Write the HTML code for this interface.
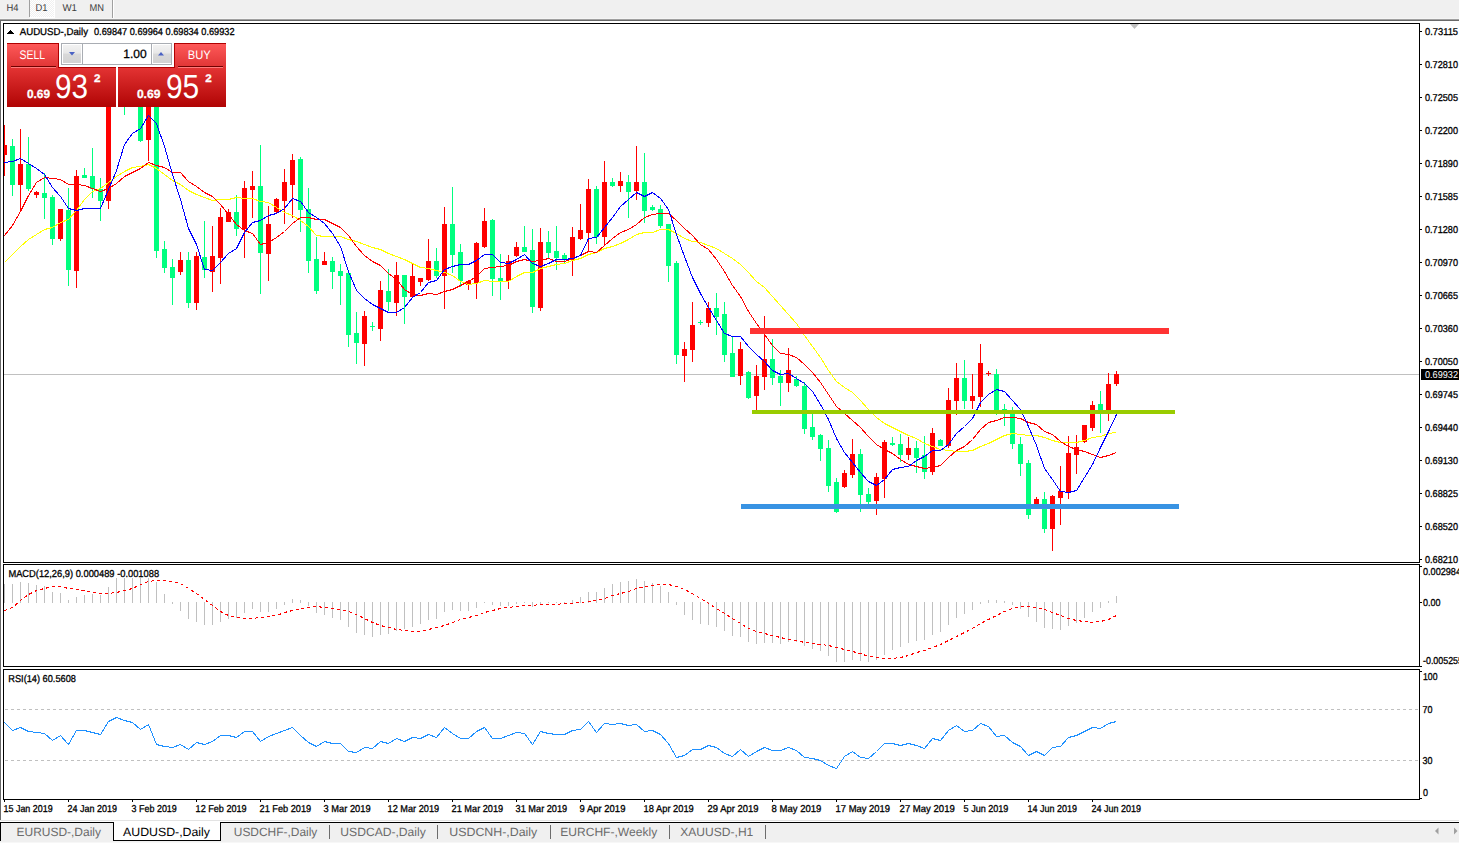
<!DOCTYPE html><html><head><meta charset="utf-8"><style>html,body{margin:0;padding:0;background:#fff;width:1459px;height:843px;overflow:hidden}</style></head><body><svg width="1459" height="843" viewBox="0 0 1459 843" style="display:block;font-family:'Liberation Sans',sans-serif" shape-rendering="crispEdges" text-rendering="geometricPrecision">
<defs><pattern id="dither" width="2" height="2" patternUnits="userSpaceOnUse"><rect width="2" height="2" fill="#f0f0f0"/><rect width="1" height="1" fill="#ffffff"/><rect x="1" y="1" width="1" height="1" fill="#ffffff"/></pattern><linearGradient id="gbtn" x1="0" y1="0" x2="0" y2="1"><stop offset="0" stop-color="#ff5a5a"/><stop offset="1" stop-color="#e03535"/></linearGradient><linearGradient id="gbox" x1="0" y1="0" x2="0" y2="1"><stop offset="0" stop-color="#e43434"/><stop offset="1" stop-color="#b00404"/></linearGradient><linearGradient id="gspin" x1="0" y1="0" x2="0" y2="1"><stop offset="0" stop-color="#f2f2f2"/><stop offset="0.45" stop-color="#e8e8e8"/><stop offset="0.5" stop-color="#d9d9d9"/><stop offset="1" stop-color="#d2d2d2"/></linearGradient><clipPath id="cmain"><rect x="4" y="24" width="1415" height="538"/></clipPath><clipPath id="cmacd"><rect x="4" y="565" width="1415" height="101"/></clipPath><clipPath id="crsi"><rect x="4" y="670" width="1415" height="129"/></clipPath></defs>
<rect x="0" y="0" width="1459" height="843" fill="#ffffff" />
<rect x="0" y="0" width="1459" height="18" fill="#f0f0f0" />
<rect x="0" y="18" width="1459" height="1" fill="#f5f5f5" />
<rect x="0" y="19" width="1459" height="1" fill="#a0a0a0" />
<rect x="0" y="20" width="1459" height="1" fill="#696969" />
<rect x="30" y="0" width="24" height="17" fill="url(#dither)" />
<rect x="29" y="0" width="1" height="17" fill="#a0a0a0" />
<rect x="54" y="0" width="1" height="17" fill="#ffffff" />
<rect x="30" y="17" width="25" height="1" fill="#ffffff" />
<rect x="112" y="0" width="1" height="18" fill="#a0a0a0" />
<rect x="113" y="0" width="1" height="18" fill="#ffffff" />
<text x="6.5" y="11" font-size="10" fill="#3c3c3c" textLength="12" lengthAdjust="spacingAndGlyphs" >H4</text>
<text x="35.5" y="11" font-size="10" fill="#3c3c3c" textLength="12" lengthAdjust="spacingAndGlyphs" >D1</text>
<text x="62.5" y="11" font-size="10" fill="#3c3c3c" textLength="14.5" lengthAdjust="spacingAndGlyphs" >W1</text>
<text x="89.5" y="11" font-size="10" fill="#3c3c3c" textLength="14.5" lengthAdjust="spacingAndGlyphs" >MN</text>
<rect x="0" y="20" width="1" height="800" fill="#696969" />
<rect x="3" y="23" width="1417" height="1" fill="#000" />
<rect x="3" y="562" width="1417" height="1" fill="#000" />
<rect x="3" y="23" width="1" height="540" fill="#000" />
<rect x="1419" y="23" width="1" height="540" fill="#000" />
<rect x="3" y="564" width="1417" height="1" fill="#000" />
<rect x="3" y="666" width="1417" height="1" fill="#000" />
<rect x="3" y="564" width="1" height="103" fill="#000" />
<rect x="1419" y="564" width="1" height="103" fill="#000" />
<rect x="3" y="669" width="1417" height="1" fill="#000" />
<rect x="3" y="799" width="1417" height="1" fill="#000" />
<rect x="3" y="669" width="1" height="131" fill="#000" />
<rect x="1419" y="669" width="1" height="131" fill="#000" />
<rect x="1420" y="31" width="2" height="1" fill="#000" />
<text x="1425" y="35" font-size="10" fill="#000" stroke="#000" stroke-width="0.3" textLength="33" lengthAdjust="spacingAndGlyphs" >0.73115</text>
<rect x="1420" y="64" width="2" height="1" fill="#000" />
<text x="1425" y="68" font-size="10" fill="#000" stroke="#000" stroke-width="0.3" textLength="33" lengthAdjust="spacingAndGlyphs" >0.72810</text>
<rect x="1420" y="97" width="2" height="1" fill="#000" />
<text x="1425" y="101" font-size="10" fill="#000" stroke="#000" stroke-width="0.3" textLength="33" lengthAdjust="spacingAndGlyphs" >0.72505</text>
<rect x="1420" y="130" width="2" height="1" fill="#000" />
<text x="1425" y="134" font-size="10" fill="#000" stroke="#000" stroke-width="0.3" textLength="33" lengthAdjust="spacingAndGlyphs" >0.72200</text>
<rect x="1420" y="163" width="2" height="1" fill="#000" />
<text x="1425" y="167" font-size="10" fill="#000" stroke="#000" stroke-width="0.3" textLength="33" lengthAdjust="spacingAndGlyphs" >0.71890</text>
<rect x="1420" y="196" width="2" height="1" fill="#000" />
<text x="1425" y="200" font-size="10" fill="#000" stroke="#000" stroke-width="0.3" textLength="33" lengthAdjust="spacingAndGlyphs" >0.71585</text>
<rect x="1420" y="229" width="2" height="1" fill="#000" />
<text x="1425" y="233" font-size="10" fill="#000" stroke="#000" stroke-width="0.3" textLength="33" lengthAdjust="spacingAndGlyphs" >0.71280</text>
<rect x="1420" y="262" width="2" height="1" fill="#000" />
<text x="1425" y="266" font-size="10" fill="#000" stroke="#000" stroke-width="0.3" textLength="33" lengthAdjust="spacingAndGlyphs" >0.70970</text>
<rect x="1420" y="295" width="2" height="1" fill="#000" />
<text x="1425" y="299" font-size="10" fill="#000" stroke="#000" stroke-width="0.3" textLength="33" lengthAdjust="spacingAndGlyphs" >0.70665</text>
<rect x="1420" y="328" width="2" height="1" fill="#000" />
<text x="1425" y="332" font-size="10" fill="#000" stroke="#000" stroke-width="0.3" textLength="33" lengthAdjust="spacingAndGlyphs" >0.70360</text>
<rect x="1420" y="361" width="2" height="1" fill="#000" />
<text x="1425" y="365" font-size="10" fill="#000" stroke="#000" stroke-width="0.3" textLength="33" lengthAdjust="spacingAndGlyphs" >0.70050</text>
<rect x="1420" y="394" width="2" height="1" fill="#000" />
<text x="1425" y="398" font-size="10" fill="#000" stroke="#000" stroke-width="0.3" textLength="33" lengthAdjust="spacingAndGlyphs" >0.69745</text>
<rect x="1420" y="427" width="2" height="1" fill="#000" />
<text x="1425" y="431" font-size="10" fill="#000" stroke="#000" stroke-width="0.3" textLength="33" lengthAdjust="spacingAndGlyphs" >0.69440</text>
<rect x="1420" y="460" width="2" height="1" fill="#000" />
<text x="1425" y="464" font-size="10" fill="#000" stroke="#000" stroke-width="0.3" textLength="33" lengthAdjust="spacingAndGlyphs" >0.69130</text>
<rect x="1420" y="493" width="2" height="1" fill="#000" />
<text x="1425" y="497" font-size="10" fill="#000" stroke="#000" stroke-width="0.3" textLength="33" lengthAdjust="spacingAndGlyphs" >0.68825</text>
<rect x="1420" y="526" width="2" height="1" fill="#000" />
<text x="1425" y="530" font-size="10" fill="#000" stroke="#000" stroke-width="0.3" textLength="33" lengthAdjust="spacingAndGlyphs" >0.68520</text>
<rect x="1420" y="559" width="2" height="1" fill="#000" />
<text x="1425" y="563" font-size="10" fill="#000" stroke="#000" stroke-width="0.3" textLength="33" lengthAdjust="spacingAndGlyphs" >0.68210</text>
<rect x="4" y="374" width="1415" height="1" fill="#c0c0c0" />
<rect x="1421" y="369" width="38" height="11" fill="#000" />
<text x="1425" y="378" font-size="10" fill="#fff" textLength="33" lengthAdjust="spacingAndGlyphs" >0.69932</text>
<rect x="1420" y="566" width="2" height="1" fill="#000" />
<text x="1423" y="575" font-size="10" fill="#000" stroke="#000" stroke-width="0.3" textLength="38" lengthAdjust="spacingAndGlyphs" >0.002984</text>
<rect x="1420" y="602" width="2" height="1" fill="#000" />
<text x="1423" y="606" font-size="10" fill="#000" stroke="#000" stroke-width="0.3" textLength="17.5" lengthAdjust="spacingAndGlyphs" >0.00</text>
<rect x="1420" y="666" width="2" height="1" fill="#000" />
<text x="1423" y="664" font-size="10" fill="#000" stroke="#000" stroke-width="0.3" textLength="40" lengthAdjust="spacingAndGlyphs" >-0.005255</text>
<rect x="1420" y="671" width="2" height="1" fill="#000" />
<text x="1423" y="680" font-size="10" fill="#000" stroke="#000" stroke-width="0.3" textLength="14.5" lengthAdjust="spacingAndGlyphs" >100</text>
<text x="1422.5" y="713" font-size="10" fill="#000" stroke="#000" stroke-width="0.3" textLength="10" lengthAdjust="spacingAndGlyphs" >70</text>
<text x="1422.5" y="764" font-size="10" fill="#000" stroke="#000" stroke-width="0.3" textLength="10" lengthAdjust="spacingAndGlyphs" >30</text>
<text x="1423" y="796" font-size="10" fill="#000" stroke="#000" stroke-width="0.3" textLength="5" lengthAdjust="spacingAndGlyphs" >0</text>
<rect x="1420" y="798" width="2" height="1" fill="#000" />
<rect x="4" y="800" width="1" height="2" fill="#000" />
<text x="3.6" y="812" font-size="10" fill="#000" stroke="#000" stroke-width="0.3" textLength="49" lengthAdjust="spacingAndGlyphs" >15 Jan 2019</text>
<rect x="68" y="800" width="1" height="2" fill="#000" />
<text x="67.6" y="812" font-size="10" fill="#000" stroke="#000" stroke-width="0.3" textLength="49.4" lengthAdjust="spacingAndGlyphs" >24 Jan 2019</text>
<rect x="132" y="800" width="1" height="2" fill="#000" />
<text x="131.6" y="812" font-size="10" fill="#000" stroke="#000" stroke-width="0.3" textLength="45.2" lengthAdjust="spacingAndGlyphs" >3 Feb 2019</text>
<rect x="196" y="800" width="1" height="2" fill="#000" />
<text x="195.6" y="812" font-size="10" fill="#000" stroke="#000" stroke-width="0.3" textLength="51" lengthAdjust="spacingAndGlyphs" >12 Feb 2019</text>
<rect x="260" y="800" width="1" height="2" fill="#000" />
<text x="259.6" y="812" font-size="10" fill="#000" stroke="#000" stroke-width="0.3" textLength="51.5" lengthAdjust="spacingAndGlyphs" >21 Feb 2019</text>
<rect x="324" y="800" width="1" height="2" fill="#000" />
<text x="323.6" y="812" font-size="10" fill="#000" stroke="#000" stroke-width="0.3" textLength="47" lengthAdjust="spacingAndGlyphs" >3 Mar 2019</text>
<rect x="388" y="800" width="1" height="2" fill="#000" />
<text x="387.6" y="812" font-size="10" fill="#000" stroke="#000" stroke-width="0.3" textLength="51.5" lengthAdjust="spacingAndGlyphs" >12 Mar 2019</text>
<rect x="452" y="800" width="1" height="2" fill="#000" />
<text x="451.6" y="812" font-size="10" fill="#000" stroke="#000" stroke-width="0.3" textLength="51.6" lengthAdjust="spacingAndGlyphs" >21 Mar 2019</text>
<rect x="516" y="800" width="1" height="2" fill="#000" />
<text x="515.6" y="812" font-size="10" fill="#000" stroke="#000" stroke-width="0.3" textLength="51.6" lengthAdjust="spacingAndGlyphs" >31 Mar 2019</text>
<rect x="580" y="800" width="1" height="2" fill="#000" />
<text x="579.6" y="812" font-size="10" fill="#000" stroke="#000" stroke-width="0.3" textLength="45.8" lengthAdjust="spacingAndGlyphs" >9 Apr 2019</text>
<rect x="644" y="800" width="1" height="2" fill="#000" />
<text x="643.6" y="812" font-size="10" fill="#000" stroke="#000" stroke-width="0.3" textLength="50.2" lengthAdjust="spacingAndGlyphs" >18 Apr 2019</text>
<rect x="708" y="800" width="1" height="2" fill="#000" />
<text x="707.6" y="812" font-size="10" fill="#000" stroke="#000" stroke-width="0.3" textLength="50.8" lengthAdjust="spacingAndGlyphs" >29 Apr 2019</text>
<rect x="772" y="800" width="1" height="2" fill="#000" />
<text x="771.6" y="812" font-size="10" fill="#000" stroke="#000" stroke-width="0.3" textLength="49.8" lengthAdjust="spacingAndGlyphs" >8 May 2019</text>
<rect x="836" y="800" width="1" height="2" fill="#000" />
<text x="835.6" y="812" font-size="10" fill="#000" stroke="#000" stroke-width="0.3" textLength="54.5" lengthAdjust="spacingAndGlyphs" >17 May 2019</text>
<rect x="900" y="800" width="1" height="2" fill="#000" />
<text x="899.6" y="812" font-size="10" fill="#000" stroke="#000" stroke-width="0.3" textLength="55.2" lengthAdjust="spacingAndGlyphs" >27 May 2019</text>
<rect x="964" y="800" width="1" height="2" fill="#000" />
<text x="963.6" y="812" font-size="10" fill="#000" stroke="#000" stroke-width="0.3" textLength="44.8" lengthAdjust="spacingAndGlyphs" >5 Jun 2019</text>
<rect x="1028" y="800" width="1" height="2" fill="#000" />
<text x="1027.6" y="812" font-size="10" fill="#000" stroke="#000" stroke-width="0.3" textLength="49.3" lengthAdjust="spacingAndGlyphs" >14 Jun 2019</text>
<rect x="1092" y="800" width="1" height="2" fill="#000" />
<text x="1091.6" y="812" font-size="10" fill="#000" stroke="#000" stroke-width="0.3" textLength="49.4" lengthAdjust="spacingAndGlyphs" >24 Jun 2019</text>
<rect x="0" y="820" width="1459" height="1" fill="#e3e3e3" />
<rect x="0" y="822" width="1459" height="21" fill="#f0f0f0" />
<rect x="0" y="822" width="1459" height="1" fill="#000" />
<rect x="0" y="842" width="1459" height="1" fill="#f7f7f7" />
<rect x="0" y="822" width="1" height="19" fill="#000" />
<rect x="114" y="821" width="106" height="19" fill="#ffffff" />
<rect x="113" y="822" width="1" height="19" fill="#000" />
<rect x="220" y="822" width="1" height="19" fill="#000" />
<rect x="113" y="840" width="108" height="1" fill="#000" />
<text x="16.5" y="836" font-size="12" fill="#6b6b6b" textLength="84.5" lengthAdjust="spacingAndGlyphs" >EURUSD-,Daily</text>
<text x="123" y="836" font-size="12" fill="#000" textLength="87" lengthAdjust="spacingAndGlyphs" >AUDUSD-,Daily</text>
<text x="233.8" y="836" font-size="12" fill="#6b6b6b" textLength="83.5" lengthAdjust="spacingAndGlyphs" >USDCHF-,Daily</text>
<text x="340.3" y="836" font-size="12" fill="#6b6b6b" textLength="85.5" lengthAdjust="spacingAndGlyphs" >USDCAD-,Daily</text>
<text x="449.3" y="836" font-size="12" fill="#6b6b6b" textLength="88" lengthAdjust="spacingAndGlyphs" >USDCNH-,Daily</text>
<text x="560.2" y="836" font-size="12" fill="#6b6b6b" textLength="97" lengthAdjust="spacingAndGlyphs" >EURCHF-,Weekly</text>
<text x="680.3" y="836" font-size="12" fill="#6b6b6b" textLength="73" lengthAdjust="spacingAndGlyphs" >XAUUSD-,H1</text>
<rect x="329" y="825" width="1" height="14" fill="#6d6d6d" />
<rect x="437" y="825" width="1" height="14" fill="#6d6d6d" />
<rect x="550" y="825" width="1" height="14" fill="#6d6d6d" />
<rect x="669" y="825" width="1" height="14" fill="#6d6d6d" />
<rect x="765" y="825" width="1" height="14" fill="#6d6d6d" />
<polygon points="1438.5,827.5 1438.5,834.5 1435,831" fill="#a0a0a0" shape-rendering="geometricPrecision"/>
<polygon points="1454,827.5 1454,834.5 1457.5,831" fill="#a0a0a0" shape-rendering="geometricPrecision"/>
<rect x="10" y="30" width="1" height="1" fill="#000" />
<rect x="9" y="31" width="3" height="1" fill="#000" />
<rect x="8" y="32" width="5" height="1" fill="#000" />
<rect x="7" y="33" width="7" height="1" fill="#000" />
<text x="19.7" y="35" font-size="10" fill="#000" stroke="#000" stroke-width="0.3" textLength="68.3" lengthAdjust="spacingAndGlyphs" >AUDUSD-,Daily</text>
<text x="94" y="35" font-size="10" fill="#000" stroke="#000" stroke-width="0.3" textLength="140.5" lengthAdjust="spacingAndGlyphs" >0.69847 0.69964 0.69834 0.69932</text>
<polygon points="1130,24 1139,24 1134.5,29" fill="#c0c0c0" shape-rendering="geometricPrecision"/>
<g clip-path="url(#cmain)">
<rect x="4" y="125" width="1" height="51" fill="#ff0000" />
<rect x="2" y="145" width="5" height="10" fill="#ff0000" />
<rect x="12" y="139" width="1" height="57" fill="#00ff7f" />
<rect x="10" y="146" width="5" height="39" fill="#00ff7f" />
<rect x="20" y="129" width="1" height="82" fill="#ff0000" />
<rect x="18" y="164" width="5" height="21" fill="#ff0000" />
<rect x="28" y="137" width="1" height="54" fill="#00ff7f" />
<rect x="26" y="164" width="5" height="25" fill="#00ff7f" />
<rect x="36" y="191" width="1" height="7" fill="#ff0000" />
<rect x="34" y="192" width="5" height="3" fill="#ff0000" />
<rect x="44" y="173" width="1" height="46" fill="#00ff7f" />
<rect x="42" y="193" width="5" height="5" fill="#00ff7f" />
<rect x="52" y="195" width="1" height="50" fill="#00ff7f" />
<rect x="50" y="197" width="5" height="42" fill="#00ff7f" />
<rect x="60" y="209" width="1" height="32" fill="#ff0000" />
<rect x="58" y="209" width="5" height="30" fill="#ff0000" />
<rect x="68" y="188" width="1" height="98" fill="#00ff7f" />
<rect x="66" y="210" width="5" height="60" fill="#00ff7f" />
<rect x="76" y="170" width="1" height="118" fill="#ff0000" />
<rect x="74" y="176" width="5" height="95" fill="#ff0000" />
<rect x="84" y="168" width="1" height="10" fill="#00ff7f" />
<rect x="82" y="175" width="5" height="3" fill="#00ff7f" />
<rect x="92" y="148" width="1" height="50" fill="#00ff7f" />
<rect x="90" y="176" width="5" height="13" fill="#00ff7f" />
<rect x="100" y="178" width="1" height="43" fill="#00ff7f" />
<rect x="98" y="189" width="5" height="12" fill="#00ff7f" />
<rect x="108" y="80" width="1" height="129" fill="#ff0000" />
<rect x="106" y="100" width="5" height="101" fill="#ff0000" />
<rect x="116" y="70" width="1" height="35" fill="#ff0000" />
<rect x="114" y="80" width="5" height="21" fill="#ff0000" />
<rect x="124" y="70" width="1" height="45" fill="#00ff7f" />
<rect x="122" y="85" width="5" height="16" fill="#00ff7f" />
<rect x="132" y="60" width="1" height="45" fill="#ff0000" />
<rect x="130" y="75" width="5" height="26" fill="#ff0000" />
<rect x="140" y="60" width="1" height="82" fill="#00ff7f" />
<rect x="138" y="75" width="5" height="66" fill="#00ff7f" />
<rect x="148" y="90" width="1" height="71" fill="#ff0000" />
<rect x="146" y="100" width="5" height="40" fill="#ff0000" />
<rect x="156" y="90" width="1" height="168" fill="#00ff7f" />
<rect x="154" y="100" width="5" height="151" fill="#00ff7f" />
<rect x="164" y="241" width="1" height="32" fill="#00ff7f" />
<rect x="162" y="249" width="5" height="19" fill="#00ff7f" />
<rect x="172" y="259" width="1" height="46" fill="#00ff7f" />
<rect x="170" y="267" width="5" height="11" fill="#00ff7f" />
<rect x="180" y="252" width="1" height="23" fill="#ff0000" />
<rect x="178" y="260" width="5" height="12" fill="#ff0000" />
<rect x="188" y="252" width="1" height="56" fill="#00ff7f" />
<rect x="186" y="260" width="5" height="43" fill="#00ff7f" />
<rect x="196" y="252" width="1" height="58" fill="#ff0000" />
<rect x="194" y="256" width="5" height="47" fill="#ff0000" />
<rect x="204" y="221" width="1" height="57" fill="#00ff7f" />
<rect x="202" y="257" width="5" height="13" fill="#00ff7f" />
<rect x="212" y="226" width="1" height="66" fill="#ff0000" />
<rect x="210" y="256" width="5" height="16" fill="#ff0000" />
<rect x="220" y="208" width="1" height="76" fill="#ff0000" />
<rect x="218" y="217" width="5" height="41" fill="#ff0000" />
<rect x="228" y="209" width="1" height="13" fill="#ff0000" />
<rect x="226" y="212" width="5" height="10" fill="#ff0000" />
<rect x="236" y="195" width="1" height="41" fill="#00ff7f" />
<rect x="234" y="212" width="5" height="17" fill="#00ff7f" />
<rect x="244" y="181" width="1" height="77" fill="#ff0000" />
<rect x="242" y="188" width="5" height="41" fill="#ff0000" />
<rect x="252" y="171" width="1" height="47" fill="#ff0000" />
<rect x="250" y="186" width="5" height="4" fill="#ff0000" />
<rect x="260" y="145" width="1" height="149" fill="#00ff7f" />
<rect x="258" y="186" width="5" height="67" fill="#00ff7f" />
<rect x="268" y="206" width="1" height="75" fill="#ff0000" />
<rect x="266" y="224" width="5" height="30" fill="#ff0000" />
<rect x="276" y="198" width="1" height="15" fill="#ff0000" />
<rect x="274" y="199" width="5" height="13" fill="#ff0000" />
<rect x="284" y="169" width="1" height="55" fill="#ff0000" />
<rect x="282" y="182" width="5" height="19" fill="#ff0000" />
<rect x="292" y="154" width="1" height="64" fill="#ff0000" />
<rect x="290" y="160" width="5" height="25" fill="#ff0000" />
<rect x="300" y="157" width="1" height="75" fill="#00ff7f" />
<rect x="298" y="159" width="5" height="51" fill="#00ff7f" />
<rect x="308" y="188" width="1" height="85" fill="#00ff7f" />
<rect x="306" y="209" width="5" height="52" fill="#00ff7f" />
<rect x="316" y="237" width="1" height="57" fill="#00ff7f" />
<rect x="314" y="259" width="5" height="32" fill="#00ff7f" />
<rect x="324" y="252" width="1" height="13" fill="#ff0000" />
<rect x="322" y="261" width="5" height="4" fill="#ff0000" />
<rect x="332" y="257" width="1" height="32" fill="#00ff7f" />
<rect x="330" y="261" width="5" height="11" fill="#00ff7f" />
<rect x="340" y="264" width="1" height="41" fill="#00ff7f" />
<rect x="338" y="271" width="5" height="5" fill="#00ff7f" />
<rect x="348" y="270" width="1" height="77" fill="#00ff7f" />
<rect x="346" y="273" width="5" height="62" fill="#00ff7f" />
<rect x="356" y="312" width="1" height="52" fill="#00ff7f" />
<rect x="354" y="333" width="5" height="10" fill="#00ff7f" />
<rect x="364" y="311" width="1" height="55" fill="#ff0000" />
<rect x="362" y="316" width="5" height="28" fill="#ff0000" />
<rect x="372" y="322" width="1" height="9" fill="#00ff7f" />
<rect x="370" y="326" width="5" height="1" fill="#00ff7f" />
<rect x="380" y="281" width="1" height="60" fill="#ff0000" />
<rect x="378" y="290" width="5" height="39" fill="#ff0000" />
<rect x="388" y="269" width="1" height="42" fill="#00ff7f" />
<rect x="386" y="291" width="5" height="11" fill="#00ff7f" />
<rect x="396" y="262" width="1" height="54" fill="#ff0000" />
<rect x="394" y="275" width="5" height="28" fill="#ff0000" />
<rect x="404" y="275" width="1" height="49" fill="#00ff7f" />
<rect x="402" y="275" width="5" height="22" fill="#00ff7f" />
<rect x="412" y="263" width="1" height="34" fill="#ff0000" />
<rect x="410" y="276" width="5" height="21" fill="#ff0000" />
<rect x="420" y="278" width="1" height="8" fill="#ff0000" />
<rect x="418" y="278" width="5" height="4" fill="#ff0000" />
<rect x="428" y="239" width="1" height="42" fill="#ff0000" />
<rect x="426" y="261" width="5" height="19" fill="#ff0000" />
<rect x="436" y="248" width="1" height="30" fill="#00ff7f" />
<rect x="434" y="261" width="5" height="15" fill="#00ff7f" />
<rect x="444" y="207" width="1" height="102" fill="#ff0000" />
<rect x="442" y="224" width="5" height="52" fill="#ff0000" />
<rect x="452" y="187" width="1" height="86" fill="#00ff7f" />
<rect x="450" y="224" width="5" height="31" fill="#00ff7f" />
<rect x="460" y="244" width="1" height="43" fill="#00ff7f" />
<rect x="458" y="252" width="5" height="29" fill="#00ff7f" />
<rect x="468" y="280" width="1" height="10" fill="#ff0000" />
<rect x="466" y="281" width="5" height="4" fill="#ff0000" />
<rect x="476" y="242" width="1" height="57" fill="#ff0000" />
<rect x="474" y="243" width="5" height="40" fill="#ff0000" />
<rect x="484" y="208" width="1" height="40" fill="#ff0000" />
<rect x="482" y="221" width="5" height="26" fill="#ff0000" />
<rect x="492" y="219" width="1" height="77" fill="#00ff7f" />
<rect x="490" y="220" width="5" height="59" fill="#00ff7f" />
<rect x="500" y="254" width="1" height="46" fill="#00ff7f" />
<rect x="498" y="278" width="5" height="3" fill="#00ff7f" />
<rect x="508" y="255" width="1" height="34" fill="#ff0000" />
<rect x="506" y="261" width="5" height="20" fill="#ff0000" />
<rect x="516" y="242" width="1" height="15" fill="#ff0000" />
<rect x="514" y="247" width="5" height="9" fill="#ff0000" />
<rect x="524" y="226" width="1" height="26" fill="#00ff7f" />
<rect x="522" y="247" width="5" height="5" fill="#00ff7f" />
<rect x="532" y="229" width="1" height="84" fill="#00ff7f" />
<rect x="530" y="250" width="5" height="57" fill="#00ff7f" />
<rect x="540" y="228" width="1" height="83" fill="#ff0000" />
<rect x="538" y="242" width="5" height="66" fill="#ff0000" />
<rect x="548" y="231" width="1" height="28" fill="#00ff7f" />
<rect x="546" y="242" width="5" height="11" fill="#00ff7f" />
<rect x="556" y="226" width="1" height="44" fill="#00ff7f" />
<rect x="554" y="251" width="5" height="7" fill="#00ff7f" />
<rect x="564" y="253" width="1" height="10" fill="#00ff7f" />
<rect x="562" y="255" width="5" height="5" fill="#00ff7f" />
<rect x="572" y="227" width="1" height="49" fill="#ff0000" />
<rect x="570" y="237" width="5" height="23" fill="#ff0000" />
<rect x="580" y="204" width="1" height="36" fill="#ff0000" />
<rect x="578" y="230" width="5" height="9" fill="#ff0000" />
<rect x="588" y="179" width="1" height="72" fill="#ff0000" />
<rect x="586" y="189" width="5" height="44" fill="#ff0000" />
<rect x="596" y="186" width="1" height="58" fill="#00ff7f" />
<rect x="594" y="189" width="5" height="48" fill="#00ff7f" />
<rect x="604" y="161" width="1" height="84" fill="#ff0000" />
<rect x="602" y="182" width="5" height="55" fill="#ff0000" />
<rect x="612" y="178" width="1" height="9" fill="#00ff7f" />
<rect x="610" y="182" width="5" height="4" fill="#00ff7f" />
<rect x="620" y="172" width="1" height="20" fill="#ff0000" />
<rect x="618" y="181" width="5" height="5" fill="#ff0000" />
<rect x="628" y="175" width="1" height="43" fill="#00ff7f" />
<rect x="626" y="182" width="5" height="10" fill="#00ff7f" />
<rect x="636" y="146" width="1" height="54" fill="#ff0000" />
<rect x="634" y="182" width="5" height="9" fill="#ff0000" />
<rect x="644" y="153" width="1" height="70" fill="#00ff7f" />
<rect x="642" y="182" width="5" height="29" fill="#00ff7f" />
<rect x="652" y="205" width="1" height="6" fill="#00ff7f" />
<rect x="650" y="207" width="5" height="3" fill="#00ff7f" />
<rect x="660" y="205" width="1" height="23" fill="#00ff7f" />
<rect x="658" y="209" width="5" height="17" fill="#00ff7f" />
<rect x="668" y="224" width="1" height="58" fill="#00ff7f" />
<rect x="666" y="224" width="5" height="42" fill="#00ff7f" />
<rect x="676" y="261" width="1" height="103" fill="#00ff7f" />
<rect x="674" y="263" width="5" height="92" fill="#00ff7f" />
<rect x="684" y="342" width="1" height="40" fill="#ff0000" />
<rect x="682" y="349" width="5" height="7" fill="#ff0000" />
<rect x="692" y="302" width="1" height="60" fill="#ff0000" />
<rect x="690" y="325" width="5" height="25" fill="#ff0000" />
<rect x="700" y="320" width="1" height="5" fill="#00ff7f" />
<rect x="698" y="322" width="5" height="1" fill="#00ff7f" />
<rect x="708" y="302" width="1" height="25" fill="#ff0000" />
<rect x="706" y="308" width="5" height="15" fill="#ff0000" />
<rect x="716" y="293" width="1" height="42" fill="#00ff7f" />
<rect x="714" y="308" width="5" height="9" fill="#00ff7f" />
<rect x="724" y="302" width="1" height="60" fill="#00ff7f" />
<rect x="722" y="314" width="5" height="41" fill="#00ff7f" />
<rect x="732" y="336" width="1" height="41" fill="#00ff7f" />
<rect x="730" y="353" width="5" height="24" fill="#00ff7f" />
<rect x="740" y="342" width="1" height="43" fill="#ff0000" />
<rect x="738" y="349" width="5" height="27" fill="#ff0000" />
<rect x="748" y="371" width="1" height="28" fill="#00ff7f" />
<rect x="746" y="372" width="5" height="26" fill="#00ff7f" />
<rect x="756" y="365" width="1" height="45" fill="#ff0000" />
<rect x="754" y="376" width="5" height="20" fill="#ff0000" />
<rect x="764" y="316" width="1" height="74" fill="#ff0000" />
<rect x="762" y="359" width="5" height="18" fill="#ff0000" />
<rect x="772" y="339" width="1" height="46" fill="#00ff7f" />
<rect x="770" y="359" width="5" height="19" fill="#00ff7f" />
<rect x="780" y="370" width="1" height="36" fill="#00ff7f" />
<rect x="778" y="376" width="5" height="7" fill="#00ff7f" />
<rect x="788" y="348" width="1" height="44" fill="#ff0000" />
<rect x="786" y="370" width="5" height="13" fill="#ff0000" />
<rect x="796" y="376" width="1" height="11" fill="#00ff7f" />
<rect x="794" y="379" width="5" height="7" fill="#00ff7f" />
<rect x="804" y="382" width="1" height="52" fill="#00ff7f" />
<rect x="802" y="386" width="5" height="43" fill="#00ff7f" />
<rect x="812" y="414" width="1" height="26" fill="#00ff7f" />
<rect x="810" y="427" width="5" height="10" fill="#00ff7f" />
<rect x="820" y="434" width="1" height="27" fill="#00ff7f" />
<rect x="818" y="435" width="5" height="14" fill="#00ff7f" />
<rect x="828" y="440" width="1" height="52" fill="#00ff7f" />
<rect x="826" y="448" width="5" height="38" fill="#00ff7f" />
<rect x="836" y="478" width="1" height="35" fill="#00ff7f" />
<rect x="834" y="482" width="5" height="30" fill="#00ff7f" />
<rect x="844" y="470" width="1" height="18" fill="#ff0000" />
<rect x="842" y="473" width="5" height="14" fill="#ff0000" />
<rect x="852" y="439" width="1" height="39" fill="#ff0000" />
<rect x="850" y="454" width="5" height="21" fill="#ff0000" />
<rect x="860" y="449" width="1" height="63" fill="#00ff7f" />
<rect x="858" y="454" width="5" height="41" fill="#00ff7f" />
<rect x="868" y="488" width="1" height="17" fill="#00ff7f" />
<rect x="866" y="494" width="5" height="8" fill="#00ff7f" />
<rect x="876" y="473" width="1" height="42" fill="#ff0000" />
<rect x="874" y="477" width="5" height="24" fill="#ff0000" />
<rect x="884" y="440" width="1" height="58" fill="#ff0000" />
<rect x="882" y="442" width="5" height="37" fill="#ff0000" />
<rect x="892" y="437" width="1" height="9" fill="#00ff7f" />
<rect x="890" y="443" width="5" height="2" fill="#00ff7f" />
<rect x="900" y="434" width="1" height="28" fill="#00ff7f" />
<rect x="898" y="444" width="5" height="11" fill="#00ff7f" />
<rect x="908" y="437" width="1" height="23" fill="#ff0000" />
<rect x="906" y="448" width="5" height="7" fill="#ff0000" />
<rect x="916" y="441" width="1" height="32" fill="#00ff7f" />
<rect x="914" y="448" width="5" height="10" fill="#00ff7f" />
<rect x="924" y="436" width="1" height="43" fill="#00ff7f" />
<rect x="922" y="455" width="5" height="17" fill="#00ff7f" />
<rect x="932" y="428" width="1" height="47" fill="#ff0000" />
<rect x="930" y="433" width="5" height="39" fill="#ff0000" />
<rect x="940" y="439" width="1" height="7" fill="#00ff7f" />
<rect x="938" y="440" width="5" height="6" fill="#00ff7f" />
<rect x="948" y="388" width="1" height="60" fill="#ff0000" />
<rect x="946" y="400" width="5" height="46" fill="#ff0000" />
<rect x="956" y="363" width="1" height="52" fill="#ff0000" />
<rect x="954" y="378" width="5" height="23" fill="#ff0000" />
<rect x="964" y="360" width="1" height="49" fill="#00ff7f" />
<rect x="962" y="378" width="5" height="23" fill="#00ff7f" />
<rect x="972" y="374" width="1" height="35" fill="#ff0000" />
<rect x="970" y="396" width="5" height="5" fill="#ff0000" />
<rect x="980" y="344" width="1" height="63" fill="#ff0000" />
<rect x="978" y="363" width="5" height="34" fill="#ff0000" />
<rect x="988" y="371" width="1" height="5" fill="#ff0000" />
<rect x="986" y="373" width="5" height="1" fill="#ff0000" />
<rect x="996" y="369" width="1" height="46" fill="#00ff7f" />
<rect x="994" y="374" width="5" height="40" fill="#00ff7f" />
<rect x="1004" y="404" width="1" height="22" fill="#00ff7f" />
<rect x="1002" y="409" width="5" height="4" fill="#00ff7f" />
<rect x="1012" y="407" width="1" height="42" fill="#00ff7f" />
<rect x="1010" y="413" width="5" height="31" fill="#00ff7f" />
<rect x="1020" y="437" width="1" height="39" fill="#00ff7f" />
<rect x="1018" y="444" width="5" height="20" fill="#00ff7f" />
<rect x="1028" y="460" width="1" height="59" fill="#00ff7f" />
<rect x="1026" y="463" width="5" height="52" fill="#00ff7f" />
<rect x="1036" y="497" width="1" height="9" fill="#ff0000" />
<rect x="1034" y="499" width="5" height="7" fill="#ff0000" />
<rect x="1044" y="492" width="1" height="41" fill="#00ff7f" />
<rect x="1042" y="499" width="5" height="30" fill="#00ff7f" />
<rect x="1052" y="495" width="1" height="56" fill="#ff0000" />
<rect x="1050" y="496" width="5" height="33" fill="#ff0000" />
<rect x="1060" y="466" width="1" height="59" fill="#ff0000" />
<rect x="1058" y="491" width="5" height="7" fill="#ff0000" />
<rect x="1068" y="436" width="1" height="63" fill="#ff0000" />
<rect x="1066" y="453" width="5" height="40" fill="#ff0000" />
<rect x="1076" y="435" width="1" height="39" fill="#ff0000" />
<rect x="1074" y="447" width="5" height="8" fill="#ff0000" />
<rect x="1084" y="425" width="1" height="18" fill="#ff0000" />
<rect x="1082" y="425" width="5" height="17" fill="#ff0000" />
<rect x="1092" y="401" width="1" height="30" fill="#ff0000" />
<rect x="1090" y="405" width="5" height="23" fill="#ff0000" />
<rect x="1100" y="391" width="1" height="42" fill="#00ff7f" />
<rect x="1098" y="404" width="5" height="6" fill="#00ff7f" />
<rect x="1108" y="373" width="1" height="48" fill="#ff0000" />
<rect x="1106" y="384" width="5" height="26" fill="#ff0000" />
<rect x="1116" y="371" width="1" height="15" fill="#ff0000" />
<rect x="1114" y="374" width="5" height="10" fill="#ff0000" />
<polyline points="4.5,262.5 12.5,254.5 20.5,246.5 28.5,239.5 36.5,234.5 44.5,229.5 52.5,227.5 60.5,222.5 68.5,219.5 76.5,210.5 84.5,199.5 92.5,191.5 100.5,188.5 108.5,182.5 116.5,176.5 124.5,171.5 132.5,167.5 140.5,166.5 148.5,164.5 156.5,168.5 164.5,174.5 172.5,180.5 180.5,184.5 188.5,190.5 196.5,194.5 204.5,197.5 212.5,200.5 220.5,199.5 228.5,199.5 236.5,197.5 244.5,198.5 252.5,198.5 260.5,201.5 268.5,202.5 276.5,207.5 284.5,212.5 292.5,215.5 300.5,220.5 308.5,226.5 316.5,235.5 324.5,236.5 332.5,236.5 340.5,236.5 348.5,239.5 356.5,241.5 364.5,244.5 372.5,247.5 380.5,249.5 388.5,253.5 396.5,256.5 404.5,259.5 412.5,263.5 420.5,267.5 428.5,268.5 436.5,270.5 444.5,272.5 452.5,275.5 460.5,281.5 468.5,284.5 476.5,283.5 484.5,280.5 492.5,281.5 500.5,281.5 508.5,281.5 516.5,276.5 524.5,272.5 532.5,272.5 540.5,268.5 548.5,266.5 556.5,264.5 564.5,263.5 572.5,260.5 580.5,258.5 588.5,254.5 596.5,252.5 604.5,248.5 612.5,246.5 620.5,243.5 628.5,239.5 636.5,234.5 644.5,232.5 652.5,232.5 660.5,229.5 668.5,229.5 676.5,233.5 684.5,238.5 692.5,241.5 700.5,242.5 708.5,245.5 716.5,248.5 724.5,253.5 732.5,258.5 740.5,264.5 748.5,272.5 756.5,281.5 764.5,287.5 772.5,296.5 780.5,305.5 788.5,314.5 796.5,323.5 804.5,335.5 812.5,346.5 820.5,357.5 828.5,370.5 836.5,381.5 844.5,387.5 852.5,392.5 860.5,400.5 868.5,409.5 876.5,417.5 884.5,423.5 892.5,427.5 900.5,431.5 908.5,435.5 916.5,438.5 924.5,443.5 932.5,446.5 940.5,449.5 948.5,450.5 956.5,451.5 964.5,451.5 972.5,450.5 980.5,446.5 988.5,443.5 996.5,439.5 1004.5,435.5 1012.5,433.5 1020.5,434.5 1028.5,435.5 1036.5,435.5 1044.5,437.5 1052.5,440.5 1060.5,442.5 1068.5,442.5 1076.5,442.5 1084.5,440.5 1092.5,437.5 1100.5,436.5 1108.5,433.5 1116.5,432.5" fill="none" stroke="#ffff00" stroke-width="1"/>
<polyline points="-3.5,246.5 4.5,235.5 12.5,225.5 20.5,211.5 28.5,195.5 36.5,182.5 44.5,177.5 52.5,178.5 60.5,179.5 68.5,184.5 76.5,184.5 84.5,185.5 92.5,188.5 100.5,191.5 108.5,188.5 116.5,183.5 124.5,176.5 132.5,172.5 140.5,168.5 148.5,162.5 156.5,165.5 164.5,167.5 172.5,172.5 180.5,172.5 188.5,181.5 196.5,186.5 204.5,192.5 212.5,196.5 220.5,204.5 228.5,214.5 236.5,224.5 244.5,230.5 252.5,233.5 260.5,244.5 268.5,242.5 276.5,237.5 284.5,231.5 292.5,223.5 300.5,217.5 308.5,217.5 316.5,219.5 324.5,219.5 332.5,223.5 340.5,227.5 348.5,235.5 356.5,246.5 364.5,255.5 372.5,261.5 380.5,265.5 388.5,273.5 396.5,279.5 404.5,289.5 412.5,294.5 420.5,295.5 428.5,293.5 436.5,294.5 444.5,291.5 452.5,289.5 460.5,285.5 468.5,281.5 476.5,276.5 484.5,268.5 492.5,267.5 500.5,266.5 508.5,265.5 516.5,261.5 524.5,259.5 532.5,261.5 540.5,260.5 548.5,258.5 556.5,261.5 564.5,261.5 572.5,258.5 580.5,255.5 588.5,251.5 596.5,252.5 604.5,245.5 612.5,238.5 620.5,232.5 628.5,229.5 636.5,224.5 644.5,217.5 652.5,214.5 660.5,213.5 668.5,213.5 676.5,220.5 684.5,228.5 692.5,235.5 700.5,244.5 708.5,249.5 716.5,259.5 724.5,271.5 732.5,285.5 740.5,296.5 748.5,311.5 756.5,323.5 764.5,334.5 772.5,345.5 780.5,353.5 788.5,354.5 796.5,357.5 804.5,364.5 812.5,372.5 820.5,382.5 828.5,394.5 836.5,406.5 844.5,413.5 852.5,420.5 860.5,427.5 868.5,436.5 876.5,444.5 884.5,449.5 892.5,453.5 900.5,459.5 908.5,464.5 916.5,466.5 924.5,468.5 932.5,467.5 940.5,465.5 948.5,457.5 956.5,450.5 964.5,446.5 972.5,439.5 980.5,429.5 988.5,422.5 996.5,420.5 1004.5,417.5 1012.5,417.5 1020.5,418.5 1028.5,422.5 1036.5,424.5 1044.5,431.5 1052.5,434.5 1060.5,441.5 1068.5,446.5 1076.5,449.5 1084.5,451.5 1092.5,454.5 1100.5,457.5 1108.5,455.5 1116.5,452.5" fill="none" stroke="#ff0000" stroke-width="1"/>
<polyline points="-3.5,170.5 4.5,162.5 12.5,161.5 20.5,158.5 28.5,163.5 36.5,168.5 44.5,174.5 52.5,187.5 60.5,196.5 68.5,208.5 76.5,210.5 84.5,208.5 92.5,208.5 100.5,208.5 108.5,189.5 116.5,170.5 124.5,144.5 132.5,133.5 140.5,128.5 148.5,115.5 156.5,123.5 164.5,146.5 172.5,174.5 180.5,199.5 188.5,228.5 196.5,244.5 204.5,269.5 212.5,270.5 220.5,262.5 228.5,253.5 236.5,248.5 244.5,232.5 252.5,222.5 260.5,220.5 268.5,215.5 276.5,213.5 284.5,208.5 292.5,198.5 300.5,201.5 308.5,212.5 316.5,217.5 324.5,223.5 332.5,233.5 340.5,246.5 348.5,271.5 356.5,290.5 364.5,298.5 372.5,304.5 380.5,308.5 388.5,312.5 396.5,312.5 404.5,307.5 412.5,297.5 420.5,292.5 428.5,282.5 436.5,280.5 444.5,269.5 452.5,266.5 460.5,264.5 468.5,264.5 476.5,260.5 484.5,254.5 492.5,254.5 500.5,262.5 508.5,263.5 516.5,259.5 524.5,254.5 532.5,263.5 540.5,266.5 548.5,263.5 556.5,259.5 564.5,259.5 572.5,258.5 580.5,255.5 588.5,238.5 596.5,237.5 604.5,227.5 612.5,217.5 620.5,206.5 628.5,199.5 636.5,192.5 644.5,196.5 652.5,192.5 660.5,198.5 668.5,209.5 676.5,234.5 684.5,256.5 692.5,277.5 700.5,293.5 708.5,307.5 716.5,320.5 724.5,333.5 732.5,336.5 740.5,336.5 748.5,346.5 756.5,354.5 764.5,361.5 772.5,370.5 780.5,374.5 788.5,373.5 796.5,378.5 804.5,383.5 812.5,391.5 820.5,404.5 828.5,419.5 836.5,438.5 844.5,452.5 852.5,462.5 860.5,472.5 868.5,481.5 876.5,485.5 884.5,479.5 892.5,469.5 900.5,467.5 908.5,466.5 916.5,460.5 924.5,456.5 932.5,450.5 940.5,450.5 948.5,444.5 956.5,433.5 964.5,426.5 972.5,418.5 980.5,402.5 988.5,394.5 996.5,389.5 1004.5,391.5 1012.5,400.5 1020.5,409.5 1028.5,426.5 1036.5,445.5 1044.5,468.5 1052.5,479.5 1060.5,491.5 1068.5,492.5 1076.5,490.5 1084.5,477.5 1092.5,464.5 1100.5,447.5 1108.5,431.5 1116.5,414.5" fill="none" stroke="#0000ff" stroke-width="1"/>
<rect x="750" y="328" width="419" height="6" fill="#ff3333" />
<rect x="752" y="410" width="423" height="4" fill="#99cc00" />
<rect x="741" y="504" width="438" height="5" fill="#3893e3" />
</g>
<rect x="7" y="43" width="219" height="64" fill="#ffffff" />
<rect x="7" y="43" width="52" height="24" fill="url(#gbtn)" />
<rect x="7" y="43" width="52" height="1" fill="#b00000" />
<rect x="58" y="43" width="1" height="24" fill="#b00000" />
<rect x="7" y="67" width="109" height="40" fill="url(#gbox)" />
<rect x="58" y="67" width="58" height="1" fill="#b00000" />
<rect x="11" y="66" width="45" height="1" fill="#700000" />
<rect x="11" y="67" width="45" height="1" fill="#ff7a7a" />
<rect x="174" y="43" width="52" height="24" fill="url(#gbtn)" />
<rect x="174" y="43" width="52" height="1" fill="#b00000" />
<rect x="174" y="43" width="1" height="24" fill="#b00000" />
<rect x="118" y="67" width="108" height="40" fill="url(#gbox)" />
<rect x="118" y="67" width="57" height="1" fill="#b00000" />
<rect x="178" y="66" width="45" height="1" fill="#700000" />
<rect x="178" y="67" width="45" height="1" fill="#ff7a7a" />
<rect x="61.5" y="43.5" width="110" height="21" fill="#fff" stroke="#a9adb3" stroke-width="1"/>
<rect x="82" y="44" width="1" height="20" fill="#a9adb3" />
<rect x="151" y="44" width="1" height="20" fill="#a9adb3" />
<rect x="63" y="45" width="18" height="18" fill="url(#gspin)" />
<rect x="153" y="45" width="18" height="18" fill="url(#gspin)" />
<polygon points="69,52 75,52 72,55.5" fill="#4a62c4" shape-rendering="geometricPrecision"/>
<polygon points="158,55.5 164,55.5 161,52" fill="#4a62c4" shape-rendering="geometricPrecision"/>
<text x="146.7" y="58" font-size="12" fill="#000" stroke="#000" stroke-width="0.3" text-anchor="end" >1.00</text>
<text x="19.5" y="59" font-size="12.5" fill="#fff" textLength="25.5" lengthAdjust="spacingAndGlyphs" >SELL</text>
<text x="187.7" y="59" font-size="12.5" fill="#fff" textLength="23" lengthAdjust="spacingAndGlyphs" >BUY</text>
<text x="27" y="98" font-size="12" fill="#fff" stroke="#fff" stroke-width="0.3" textLength="23" lengthAdjust="spacingAndGlyphs" font-weight="bold" >0.69</text>
<text x="55" y="98" font-size="33.5" fill="#fff" textLength="33" lengthAdjust="spacingAndGlyphs" >93</text>
<text x="94" y="82" font-size="11" fill="#fff" stroke="#fff" stroke-width="0.3" textLength="6.5" lengthAdjust="spacingAndGlyphs" font-weight="bold" >2</text>
<text x="136.9" y="98" font-size="12" fill="#fff" stroke="#fff" stroke-width="0.3" textLength="23.5" lengthAdjust="spacingAndGlyphs" font-weight="bold" >0.69</text>
<text x="165.9" y="98" font-size="33.5" fill="#fff" textLength="33.3" lengthAdjust="spacingAndGlyphs" >95</text>
<text x="205.2" y="82" font-size="11" fill="#fff" stroke="#fff" stroke-width="0.3" textLength="6.5" lengthAdjust="spacingAndGlyphs" font-weight="bold" >2</text>
<g clip-path="url(#cmacd)">
<rect x="4" y="584" width="1" height="19" fill="#c0c0c0" />
<rect x="12" y="584" width="1" height="19" fill="#c0c0c0" />
<rect x="20" y="582" width="1" height="21" fill="#c0c0c0" />
<rect x="28" y="583" width="1" height="20" fill="#c0c0c0" />
<rect x="36" y="585" width="1" height="18" fill="#c0c0c0" />
<rect x="44" y="586" width="1" height="17" fill="#c0c0c0" />
<rect x="52" y="592" width="1" height="11" fill="#c0c0c0" />
<rect x="60" y="593" width="1" height="10" fill="#c0c0c0" />
<rect x="68" y="600" width="1" height="3" fill="#c0c0c0" />
<rect x="76" y="597" width="1" height="6" fill="#c0c0c0" />
<rect x="84" y="595" width="1" height="8" fill="#c0c0c0" />
<rect x="92" y="594" width="1" height="9" fill="#c0c0c0" />
<rect x="100" y="595" width="1" height="8" fill="#c0c0c0" />
<rect x="108" y="587" width="1" height="16" fill="#c0c0c0" />
<rect x="116" y="578" width="1" height="25" fill="#c0c0c0" />
<rect x="124" y="573" width="1" height="30" fill="#c0c0c0" />
<rect x="132" y="570" width="1" height="33" fill="#c0c0c0" />
<rect x="140" y="572" width="1" height="31" fill="#c0c0c0" />
<rect x="148" y="570" width="1" height="33" fill="#c0c0c0" />
<rect x="156" y="582" width="1" height="21" fill="#c0c0c0" />
<rect x="164" y="594" width="1" height="9" fill="#c0c0c0" />
<rect x="172" y="602" width="1" height="2" fill="#c0c0c0" />
<rect x="180" y="602" width="1" height="9" fill="#c0c0c0" />
<rect x="188" y="602" width="1" height="17" fill="#c0c0c0" />
<rect x="196" y="602" width="1" height="20" fill="#c0c0c0" />
<rect x="204" y="602" width="1" height="23" fill="#c0c0c0" />
<rect x="212" y="602" width="1" height="23" fill="#c0c0c0" />
<rect x="220" y="602" width="1" height="20" fill="#c0c0c0" />
<rect x="228" y="602" width="1" height="17" fill="#c0c0c0" />
<rect x="236" y="602" width="1" height="16" fill="#c0c0c0" />
<rect x="244" y="602" width="1" height="11" fill="#c0c0c0" />
<rect x="252" y="602" width="1" height="7" fill="#c0c0c0" />
<rect x="260" y="602" width="1" height="10" fill="#c0c0c0" />
<rect x="268" y="602" width="1" height="10" fill="#c0c0c0" />
<rect x="276" y="602" width="1" height="7" fill="#c0c0c0" />
<rect x="284" y="602" width="1" height="3" fill="#c0c0c0" />
<rect x="292" y="599" width="1" height="4" fill="#c0c0c0" />
<rect x="300" y="600" width="1" height="3" fill="#c0c0c0" />
<rect x="308" y="602" width="1" height="4" fill="#c0c0c0" />
<rect x="316" y="602" width="1" height="11" fill="#c0c0c0" />
<rect x="324" y="602" width="1" height="13" fill="#c0c0c0" />
<rect x="332" y="602" width="1" height="16" fill="#c0c0c0" />
<rect x="340" y="602" width="1" height="18" fill="#c0c0c0" />
<rect x="348" y="602" width="1" height="25" fill="#c0c0c0" />
<rect x="356" y="602" width="1" height="31" fill="#c0c0c0" />
<rect x="364" y="602" width="1" height="33" fill="#c0c0c0" />
<rect x="372" y="602" width="1" height="35" fill="#c0c0c0" />
<rect x="380" y="602" width="1" height="33" fill="#c0c0c0" />
<rect x="388" y="602" width="1" height="32" fill="#c0c0c0" />
<rect x="396" y="602" width="1" height="29" fill="#c0c0c0" />
<rect x="404" y="602" width="1" height="27" fill="#c0c0c0" />
<rect x="412" y="602" width="1" height="25" fill="#c0c0c0" />
<rect x="420" y="602" width="1" height="22" fill="#c0c0c0" />
<rect x="428" y="602" width="1" height="18" fill="#c0c0c0" />
<rect x="436" y="602" width="1" height="17" fill="#c0c0c0" />
<rect x="444" y="602" width="1" height="10" fill="#c0c0c0" />
<rect x="452" y="602" width="1" height="8" fill="#c0c0c0" />
<rect x="460" y="602" width="1" height="9" fill="#c0c0c0" />
<rect x="468" y="602" width="1" height="9" fill="#c0c0c0" />
<rect x="476" y="602" width="1" height="6" fill="#c0c0c0" />
<rect x="484" y="602" width="1" height="1" fill="#c0c0c0" />
<rect x="492" y="602" width="1" height="3" fill="#c0c0c0" />
<rect x="500" y="602" width="1" height="4" fill="#c0c0c0" />
<rect x="508" y="602" width="1" height="4" fill="#c0c0c0" />
<rect x="516" y="602" width="1" height="2" fill="#c0c0c0" />
<rect x="524" y="602" width="1" height="1" fill="#c0c0c0" />
<rect x="532" y="602" width="1" height="5" fill="#c0c0c0" />
<rect x="540" y="602" width="1" height="2" fill="#c0c0c0" />
<rect x="548" y="602" width="1" height="1" fill="#c0c0c0" />
<rect x="556" y="602" width="1" height="1" fill="#c0c0c0" />
<rect x="564" y="602" width="1" height="1" fill="#c0c0c0" />
<rect x="572" y="600" width="1" height="3" fill="#c0c0c0" />
<rect x="580" y="597" width="1" height="6" fill="#c0c0c0" />
<rect x="588" y="592" width="1" height="11" fill="#c0c0c0" />
<rect x="596" y="592" width="1" height="11" fill="#c0c0c0" />
<rect x="604" y="588" width="1" height="15" fill="#c0c0c0" />
<rect x="612" y="584" width="1" height="19" fill="#c0c0c0" />
<rect x="620" y="582" width="1" height="21" fill="#c0c0c0" />
<rect x="628" y="581" width="1" height="22" fill="#c0c0c0" />
<rect x="636" y="579" width="1" height="24" fill="#c0c0c0" />
<rect x="644" y="581" width="1" height="22" fill="#c0c0c0" />
<rect x="652" y="583" width="1" height="20" fill="#c0c0c0" />
<rect x="660" y="586" width="1" height="17" fill="#c0c0c0" />
<rect x="668" y="592" width="1" height="11" fill="#c0c0c0" />
<rect x="676" y="602" width="1" height="3" fill="#c0c0c0" />
<rect x="684" y="602" width="1" height="13" fill="#c0c0c0" />
<rect x="692" y="602" width="1" height="18" fill="#c0c0c0" />
<rect x="700" y="602" width="1" height="22" fill="#c0c0c0" />
<rect x="708" y="602" width="1" height="23" fill="#c0c0c0" />
<rect x="716" y="602" width="1" height="25" fill="#c0c0c0" />
<rect x="724" y="602" width="1" height="29" fill="#c0c0c0" />
<rect x="732" y="602" width="1" height="34" fill="#c0c0c0" />
<rect x="740" y="602" width="1" height="35" fill="#c0c0c0" />
<rect x="748" y="602" width="1" height="40" fill="#c0c0c0" />
<rect x="756" y="602" width="1" height="42" fill="#c0c0c0" />
<rect x="764" y="602" width="1" height="41" fill="#c0c0c0" />
<rect x="772" y="602" width="1" height="41" fill="#c0c0c0" />
<rect x="780" y="602" width="1" height="42" fill="#c0c0c0" />
<rect x="788" y="602" width="1" height="40" fill="#c0c0c0" />
<rect x="796" y="602" width="1" height="40" fill="#c0c0c0" />
<rect x="804" y="602" width="1" height="44" fill="#c0c0c0" />
<rect x="812" y="602" width="1" height="47" fill="#c0c0c0" />
<rect x="820" y="602" width="1" height="49" fill="#c0c0c0" />
<rect x="828" y="602" width="1" height="54" fill="#c0c0c0" />
<rect x="836" y="602" width="1" height="60" fill="#c0c0c0" />
<rect x="844" y="602" width="1" height="60" fill="#c0c0c0" />
<rect x="852" y="602" width="1" height="58" fill="#c0c0c0" />
<rect x="860" y="602" width="1" height="59" fill="#c0c0c0" />
<rect x="868" y="602" width="1" height="60" fill="#c0c0c0" />
<rect x="876" y="602" width="1" height="58" fill="#c0c0c0" />
<rect x="884" y="602" width="1" height="53" fill="#c0c0c0" />
<rect x="892" y="602" width="1" height="48" fill="#c0c0c0" />
<rect x="900" y="602" width="1" height="45" fill="#c0c0c0" />
<rect x="908" y="602" width="1" height="41" fill="#c0c0c0" />
<rect x="916" y="602" width="1" height="39" fill="#c0c0c0" />
<rect x="924" y="602" width="1" height="38" fill="#c0c0c0" />
<rect x="932" y="602" width="1" height="33" fill="#c0c0c0" />
<rect x="940" y="602" width="1" height="30" fill="#c0c0c0" />
<rect x="948" y="602" width="1" height="23" fill="#c0c0c0" />
<rect x="956" y="602" width="1" height="16" fill="#c0c0c0" />
<rect x="964" y="602" width="1" height="12" fill="#c0c0c0" />
<rect x="972" y="602" width="1" height="8" fill="#c0c0c0" />
<rect x="980" y="602" width="1" height="2" fill="#c0c0c0" />
<rect x="988" y="600" width="1" height="3" fill="#c0c0c0" />
<rect x="996" y="600" width="1" height="3" fill="#c0c0c0" />
<rect x="1004" y="601" width="1" height="2" fill="#c0c0c0" />
<rect x="1012" y="602" width="1" height="3" fill="#c0c0c0" />
<rect x="1020" y="602" width="1" height="7" fill="#c0c0c0" />
<rect x="1028" y="602" width="1" height="15" fill="#c0c0c0" />
<rect x="1036" y="602" width="1" height="20" fill="#c0c0c0" />
<rect x="1044" y="602" width="1" height="26" fill="#c0c0c0" />
<rect x="1052" y="602" width="1" height="27" fill="#c0c0c0" />
<rect x="1060" y="602" width="1" height="28" fill="#c0c0c0" />
<rect x="1068" y="602" width="1" height="24" fill="#c0c0c0" />
<rect x="1076" y="602" width="1" height="21" fill="#c0c0c0" />
<rect x="1084" y="602" width="1" height="16" fill="#c0c0c0" />
<rect x="1092" y="602" width="1" height="10" fill="#c0c0c0" />
<rect x="1100" y="602" width="1" height="6" fill="#c0c0c0" />
<rect x="1108" y="601" width="1" height="2" fill="#c0c0c0" />
<rect x="1116" y="596" width="1" height="7" fill="#c0c0c0" />
<polyline points="4.5,610.5 12.5,607.5 20.5,600.5 28.5,594.5 36.5,590.5 44.5,588.5 52.5,586.5 60.5,586.5 68.5,588.5 76.5,589.5 84.5,590.5 92.5,592.5 100.5,593.5 108.5,593.5 116.5,592.5 124.5,590.5 132.5,588.5 140.5,584.5 148.5,581.5 156.5,580.5 164.5,580.5 172.5,581.5 180.5,583.5 188.5,588.5 196.5,593.5 204.5,599.5 212.5,605.5 220.5,611.5 228.5,615.5 236.5,617.5 244.5,618.5 252.5,618.5 260.5,617.5 268.5,616.5 276.5,615.5 284.5,612.5 292.5,610.5 300.5,608.5 308.5,607.5 316.5,606.5 324.5,607.5 332.5,608.5 340.5,609.5 348.5,611.5 356.5,614.5 364.5,618.5 372.5,622.5 380.5,625.5 388.5,627.5 396.5,629.5 404.5,630.5 412.5,631.5 420.5,631.5 428.5,629.5 436.5,627.5 444.5,625.5 452.5,622.5 460.5,619.5 468.5,617.5 476.5,615.5 484.5,612.5 492.5,610.5 500.5,608.5 508.5,607.5 516.5,606.5 524.5,605.5 532.5,605.5 540.5,604.5 548.5,604.5 556.5,604.5 564.5,603.5 572.5,603.5 580.5,602.5 588.5,601.5 596.5,600.5 604.5,598.5 612.5,595.5 620.5,593.5 628.5,591.5 636.5,588.5 644.5,586.5 652.5,585.5 660.5,584.5 668.5,584.5 676.5,586.5 684.5,589.5 692.5,593.5 700.5,598.5 708.5,603.5 716.5,608.5 724.5,613.5 732.5,618.5 740.5,623.5 748.5,628.5 756.5,631.5 764.5,633.5 772.5,635.5 780.5,637.5 788.5,639.5 796.5,640.5 804.5,642.5 812.5,643.5 820.5,644.5 828.5,645.5 836.5,647.5 844.5,649.5 852.5,651.5 860.5,653.5 868.5,656.5 876.5,657.5 884.5,658.5 892.5,658.5 900.5,657.5 908.5,655.5 916.5,652.5 924.5,650.5 932.5,647.5 940.5,644.5 948.5,640.5 956.5,636.5 964.5,632.5 972.5,628.5 980.5,623.5 988.5,619.5 996.5,615.5 1004.5,611.5 1012.5,608.5 1020.5,606.5 1028.5,606.5 1036.5,607.5 1044.5,609.5 1052.5,612.5 1060.5,615.5 1068.5,618.5 1076.5,620.5 1084.5,621.5 1092.5,622.5 1100.5,621.5 1108.5,619.5 1116.5,615.5" fill="none" stroke="#ff0000" stroke-width="1" stroke-dasharray="3,3"/>
</g>
<rect x="8" y="569" width="152" height="9" fill="#ffffff" />
<text x="8.4" y="577" font-size="10" fill="#000" stroke="#000" stroke-width="0.3" textLength="150.7" lengthAdjust="spacingAndGlyphs" >MACD(12,26,9) 0.000489 -0.001088</text>
<text x="8.3" y="682" font-size="10" fill="#000" stroke="#000" stroke-width="0.3" textLength="67.6" lengthAdjust="spacingAndGlyphs" >RSI(14) 60.5608</text>
<g clip-path="url(#crsi)">
<line x1="5" y1="709.5" x2="1419" y2="709.5" stroke="#c0c0c0" stroke-dasharray="3,3"/>
<line x1="5" y1="760.5" x2="1419" y2="760.5" stroke="#c0c0c0" stroke-dasharray="3,3"/>
<polyline points="4.5,722.5 12.5,730.5 20.5,727.5 28.5,731.5 36.5,732.5 44.5,733.5 52.5,740.5 60.5,735.5 68.5,744.5 76.5,730.5 84.5,730.5 92.5,732.5 100.5,734.5 108.5,721.5 116.5,717.5 124.5,720.5 132.5,722.5 140.5,729.5 148.5,724.5 156.5,744.5 164.5,746.5 172.5,747.5 180.5,744.5 188.5,749.5 196.5,742.5 204.5,744.5 212.5,741.5 220.5,735.5 228.5,735.5 236.5,737.5 244.5,731.5 252.5,731.5 260.5,741.5 268.5,736.5 276.5,733.5 284.5,730.5 292.5,727.5 300.5,735.5 308.5,742.5 316.5,746.5 324.5,741.5 332.5,743.5 340.5,743.5 348.5,751.5 356.5,752.5 364.5,747.5 372.5,748.5 380.5,741.5 388.5,743.5 396.5,738.5 404.5,741.5 412.5,737.5 420.5,738.5 428.5,734.5 436.5,737.5 444.5,727.5 452.5,733.5 460.5,738.5 468.5,738.5 476.5,731.5 484.5,727.5 492.5,738.5 500.5,738.5 508.5,735.5 516.5,732.5 524.5,733.5 532.5,744.5 540.5,731.5 548.5,733.5 556.5,734.5 564.5,734.5 572.5,730.5 580.5,729.5 588.5,721.5 596.5,732.5 604.5,723.5 612.5,724.5 620.5,723.5 628.5,725.5 636.5,724.5 644.5,731.5 652.5,730.5 660.5,734.5 668.5,743.5 676.5,757.5 684.5,755.5 692.5,749.5 700.5,749.5 708.5,745.5 716.5,747.5 724.5,753.5 732.5,756.5 740.5,749.5 748.5,756.5 756.5,751.5 764.5,747.5 772.5,750.5 780.5,750.5 788.5,747.5 796.5,750.5 804.5,757.5 812.5,758.5 820.5,760.5 828.5,765.5 836.5,768.5 844.5,756.5 852.5,751.5 860.5,757.5 868.5,758.5 876.5,751.5 884.5,743.5 892.5,743.5 900.5,745.5 908.5,743.5 916.5,745.5 924.5,748.5 932.5,738.5 940.5,740.5 948.5,730.5 956.5,725.5 964.5,731.5 972.5,730.5 980.5,723.5 988.5,726.5 996.5,736.5 1004.5,735.5 1012.5,742.5 1020.5,746.5 1028.5,755.5 1036.5,751.5 1044.5,755.5 1052.5,747.5 1060.5,746.5 1068.5,737.5 1076.5,735.5 1084.5,731.5 1092.5,727.5 1100.5,728.5 1108.5,723.5 1116.5,721.5" fill="none" stroke="#1e90ff" stroke-width="1"/>
</g>
</svg></body></html>
